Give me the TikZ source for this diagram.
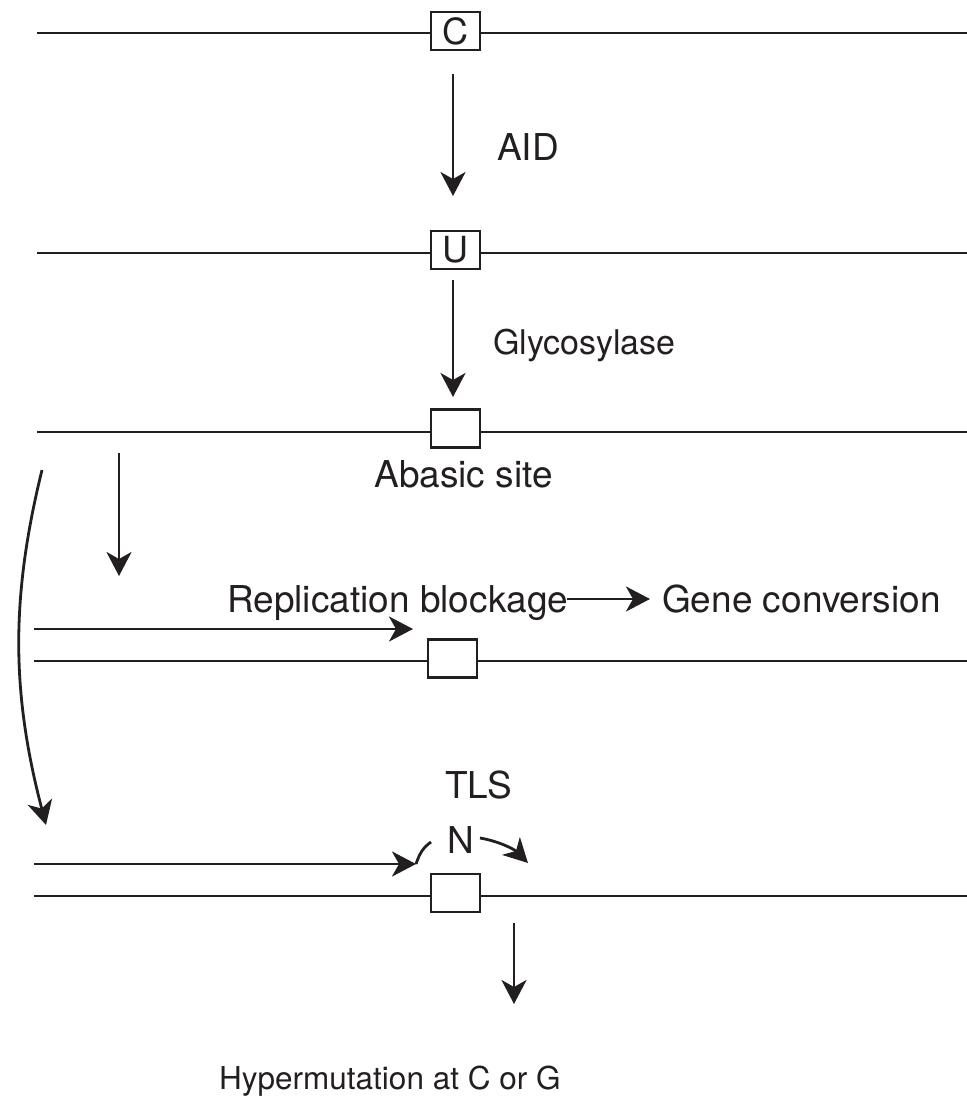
\documentclass[tikz,border=0pt]{standalone}
\usepackage{fontspec}
\setmainfont{TeX Gyre Heros}
\usetikzlibrary{arrows.meta}
\definecolor{ink}{RGB}{35,31,32}
\begin{document}
\begin{tikzpicture}[x=1pt,y=-1pt,
  strand/.style={draw=ink,line width=2.8pt},
  basebox/.style={draw=ink,fill=white,line width=2.9pt,minimum width=49pt,minimum height=38pt,inner sep=0pt,font=\fontsize{36}{40}\selectfont,text=ink},
  arr/.style={draw=ink,line width=2.8pt,-{Stealth[length=24pt,width=25pt,inset=7pt]}},
  lab/.style={anchor=base west,inner sep=0pt,text=ink,font=\fontsize{37}{41}\selectfont}]
\useasboundingbox (0,0) rectangle (967,1104);

% ---- strand 1 : C
\coordinate (L1) at (37,33);  \coordinate (R1) at (967,33);
\node[basebox] (C) at (455.5,31) {C};
\draw[strand] (L1) -- (L1 -| C.west);
\draw[strand] (C.east |- R1) -- (R1);

% ---- strand 2 : U
\coordinate (L2) at (37,253); \coordinate (R2) at (967,253);
\node[basebox] (U) at (455.5,250) {U};
\draw[strand] (L2) -- (L2 -| U.west);
\draw[strand] (U.east |- R2) -- (R2);

% ---- strand 3 : abasic site
\coordinate (L3) at (37,432); \coordinate (R3) at (967,432);
\node[basebox] (AB) at (455.5,428.5) {};
\draw[strand] (L3) -- (L3 -| AB.west);
\draw[strand] (AB.east |- R3) -- (R3);

% ---- strand 4 : replication blockage
\coordinate (L4) at (34,661); \coordinate (R4) at (967,661);
\node[basebox] (RB) at (452.5,658.5) {};
\draw[strand] (L4) -- (L4 -| RB.west);
\draw[strand] (RB.east |- R4) -- (R4);

% ---- strand 5 : TLS
\coordinate (L5) at (34,896); \coordinate (R5) at (967,896);
\node[basebox] (TB) at (455.5,893) {};
\draw[strand] (L5) -- (L5 -| TB.west);
\draw[strand] (TB.east |- R5) -- (R5);

% ---- labels
\node[lab] (aid) at (497,160) {AID};
\node[lab,font=\fontsize{34}{38}\selectfont] (gly) at (493,354) {Glycosylase};
\node[lab] (abs) at (374,487) {Abasic site};
\node[lab] (rbl) at (227,612) {Replication blockage};
\node[lab] (gcv) at (662,612) {Gene conversion};
\node[lab] (tls) at (445,798) {TLS};
\node[lab] (N) at (447,853) {N};
\node[lab,font=\fontsize{31.5}{35}\selectfont] (hyp) at (219,1089) {Hypermutation at C or G};

% ---- vertical arrows
\coordinate (a1s) at (453,74);  \coordinate (a1e) at (453,196);
\draw[arr] (a1s) -- (a1e);
\coordinate (a2s) at (453,280); \coordinate (a2e) at (453,397);
\draw[arr] (a2s) -- (a2e);
\coordinate (a3s) at (119,453); \coordinate (a3e) at (119,576);
\draw[arr] (a3s) -- (a3e);
\coordinate (a4s) at (514,923); \coordinate (a4e) at (514,1004);
\draw[arr] (a4s) -- (a4e);

% ---- curved arrow on the left
\coordinate (cvs) at (42,470); \coordinate (cve) at (46,825);
\draw[arr] (cvs) .. controls (10,600) and (12,695) .. (cve);

% ---- replication arrow and gene conversion arrow
\coordinate (r1s) at (34,629); \coordinate (r1e) at (413,629);
\draw[arr] (r1s) -- (r1e);
\coordinate (gs) at (567,599); \coordinate (ge) at (650,599);
\draw[arr] (gs) -- (ge);

% ---- TLS arrows
\coordinate (t1s) at (34,864); \coordinate (t1e) at (416,864);
\draw[arr] (t1s) -- (t1e);
\coordinate (t1c) at (431,842);
\draw[draw=ink,line width=2.8pt] (t1e) .. controls (420,852) and (424,847) .. (t1c);
\coordinate (t2s) at (480,838); \coordinate (t2e) at (528,863);
\draw[arr] (t2s) .. controls (498,841) and (514,849) .. (t2e);
\end{tikzpicture}
\end{document}
